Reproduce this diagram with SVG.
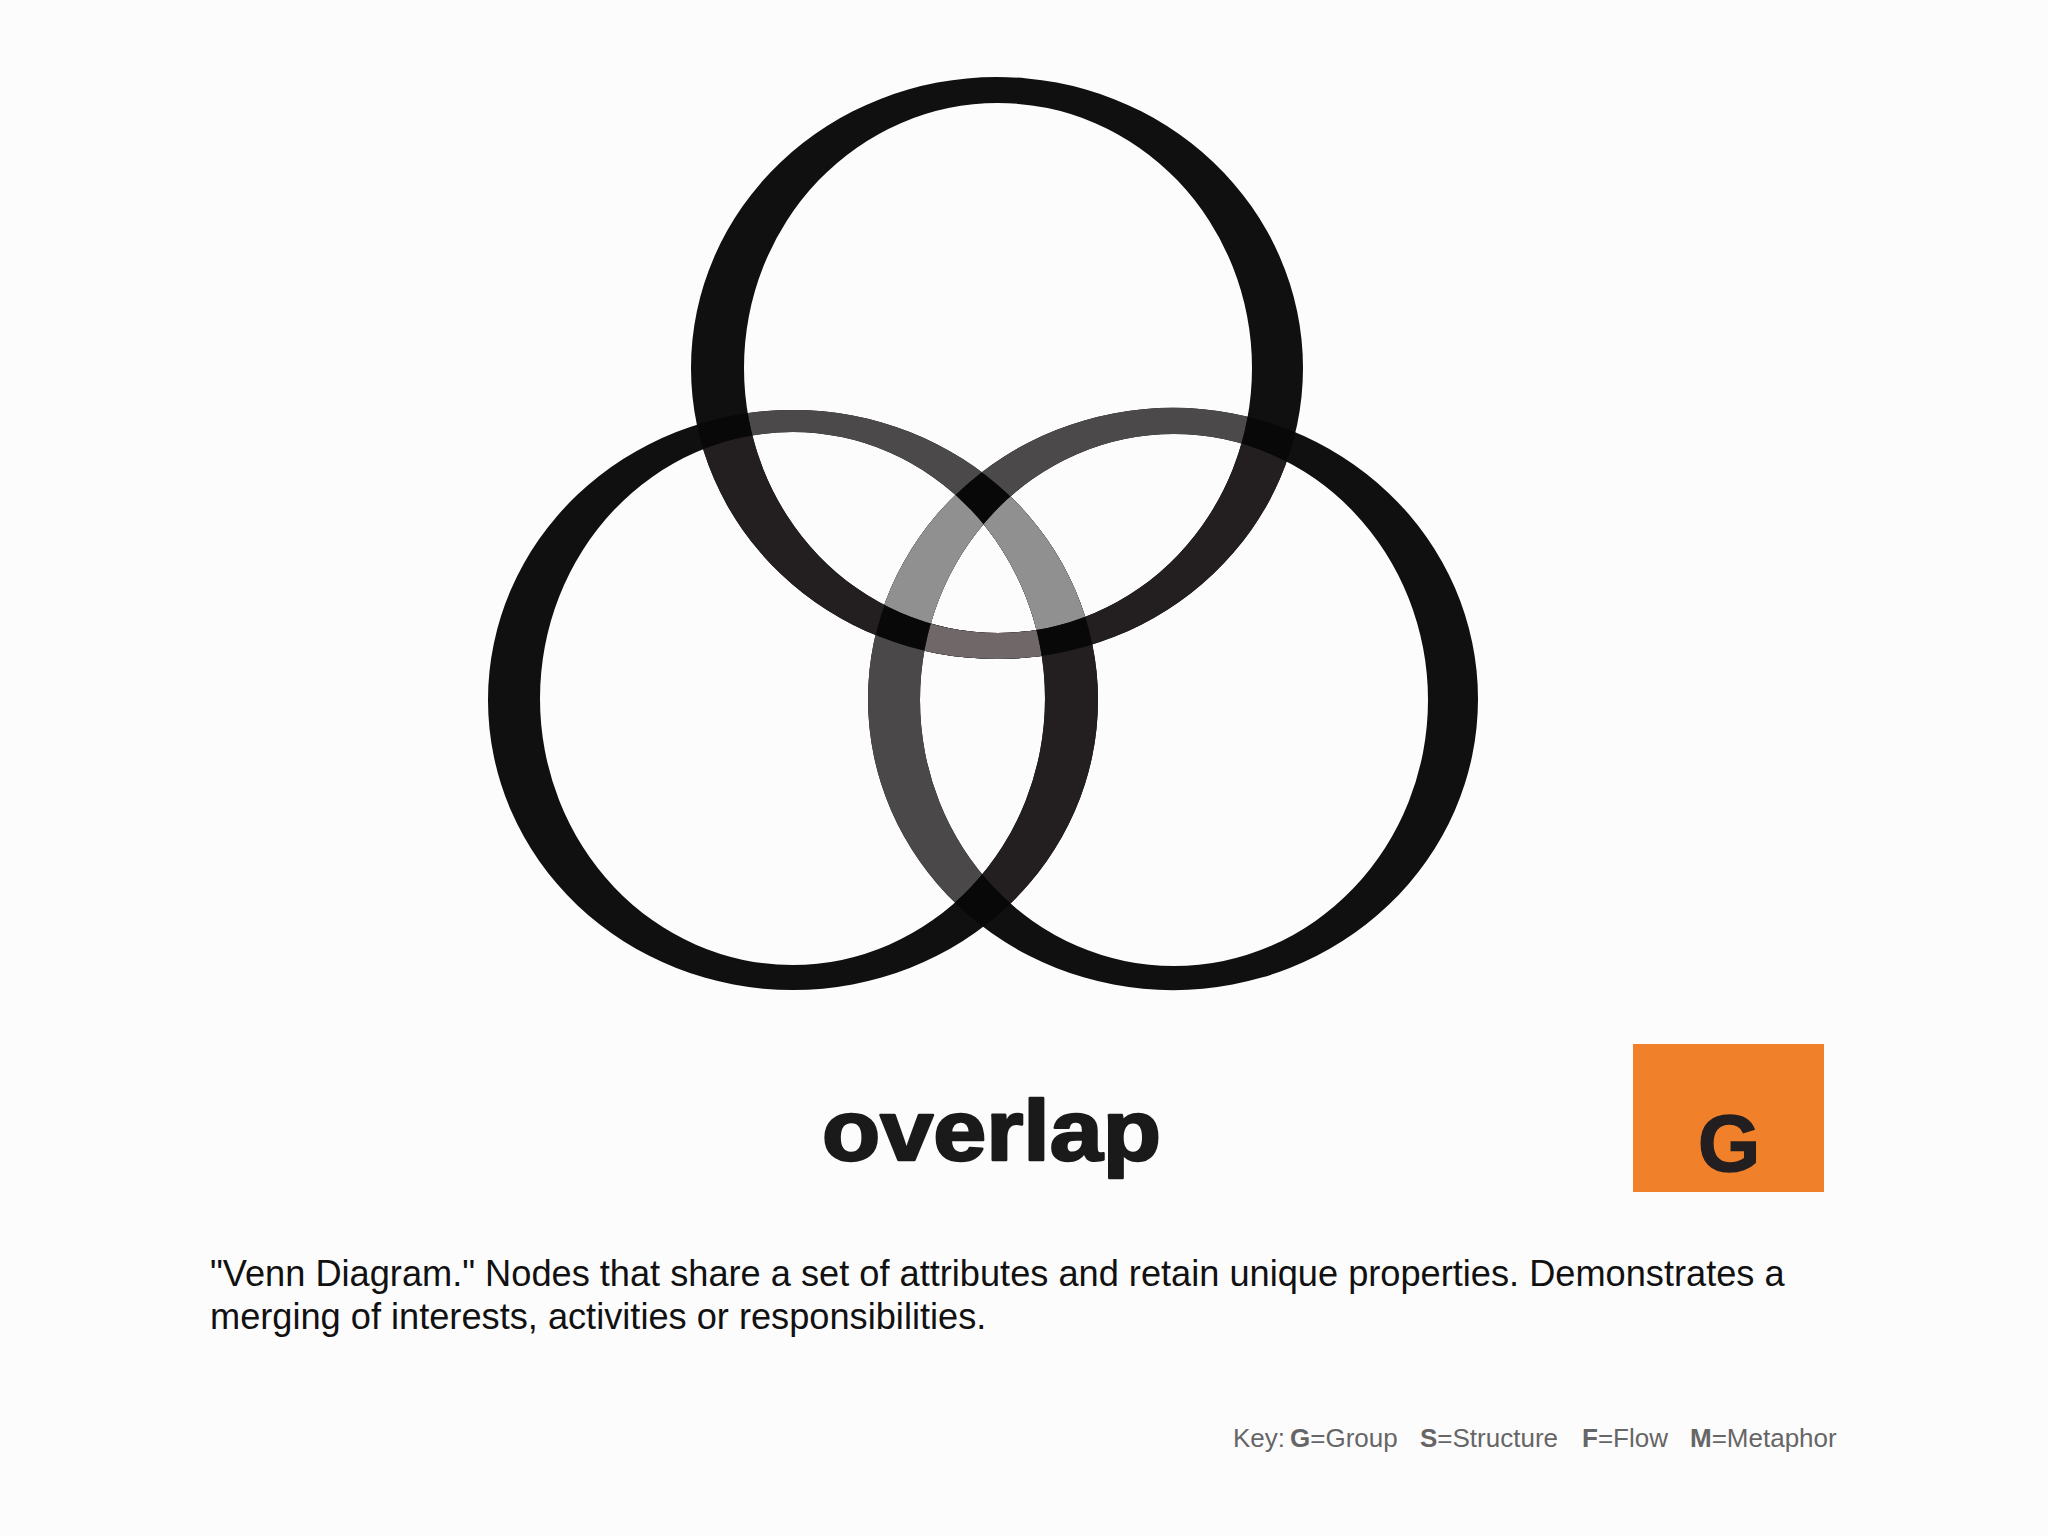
<svg xmlns="http://www.w3.org/2000/svg" xmlns:xlink="http://www.w3.org/1999/xlink" width="2048" height="1536" viewBox="0 0 2048 1536">
  <style>
    .k { fill: #111010; }
    .sans { font-family: "Liberation Sans", Arial, sans-serif; }
    .cap { font-size: 36.2px; fill: #111; }
    .key { font-size: 26px; fill: #666; }
    .b { font-weight: bold; }
  </style>
  <defs>
    <path id="ringT" fill-rule="evenodd" clip-rule="evenodd" d="M691,368 a306,291 0 1,0 612,0 a306,291 0 1,0 -612,0 Z M744,368 a254,265 0 1,0 508,0 a254,265 0 1,0 -508,0 Z"/>
    <path id="ringL" fill-rule="evenodd" clip-rule="evenodd" d="M488,700 a305,290 0 1,0 610,0 a305,290 0 1,0 -610,0 Z M540,698.5 a252.5,266.5 0 1,0 505,0 a252.5,266.5 0 1,0 -505,0 Z"/>
    <path id="ringR" fill-rule="evenodd" clip-rule="evenodd" d="M868,699 a305,291 0 1,0 610,0 a305,291 0 1,0 -610,0 Z M920,700 a254,266 0 1,0 508,0 a254,266 0 1,0 -508,0 Z"/>
    <clipPath id="cpTin"><ellipse cx="998" cy="368" rx="254" ry="265"/></clipPath>
    <clipPath id="cpLin"><ellipse cx="792.5" cy="698.5" rx="252.5" ry="266.5"/></clipPath>
    <clipPath id="cpRin"><ellipse cx="1174" cy="700" rx="254" ry="266"/></clipPath>
    <clipPath id="cpTring"><use xlink:href="#ringT"/></clipPath>
    <clipPath id="cpRring"><use xlink:href="#ringR"/></clipPath>
  </defs>
  <rect x="0" y="0" width="2048" height="1536" fill="#fdfcfd"/>

  <g id="ring-top"><use xlink:href="#ringT" class="k"/></g>
  <g id="ring-left"><use xlink:href="#ringL" class="k"/></g>
  <g id="ring-right"><use xlink:href="#ringR" class="k"/></g>

  <g id="overlaps">
    <g clip-path="url(#cpLin)"><use xlink:href="#ringT" fill="#231f20"/></g>
    <g clip-path="url(#cpRin)"><use xlink:href="#ringT" fill="#231f20"/></g>
    <g clip-path="url(#cpLin)"><g clip-path="url(#cpRin)"><use xlink:href="#ringT" fill="#6f6768"/></g></g>
    <g clip-path="url(#cpRin)"><use xlink:href="#ringL" fill="#231f20"/></g>
    <g clip-path="url(#cpLin)"><use xlink:href="#ringR" fill="#4a4849"/></g>
    <g clip-path="url(#cpTin)"><use xlink:href="#ringL" fill="#4b494a"/></g>
    <g clip-path="url(#cpTin)"><use xlink:href="#ringR" fill="#4b494a"/></g>
    <g clip-path="url(#cpTin)"><g clip-path="url(#cpRin)"><use xlink:href="#ringL" fill="#919090"/></g></g>
    <g clip-path="url(#cpTin)"><g clip-path="url(#cpLin)"><use xlink:href="#ringR" fill="#919090"/></g></g>
    <g clip-path="url(#cpRring)"><use xlink:href="#ringL" fill="#080808"/></g>
    <g clip-path="url(#cpTring)"><use xlink:href="#ringL" fill="#080808"/></g>
    <g clip-path="url(#cpTring)"><use xlink:href="#ringR" fill="#080808"/></g>
  </g>

  <g id="title">
    <text class="sans b" x="822" y="1160" font-size="85" fill="#1a1a1a" stroke="#1a1a1a" stroke-width="2.5" stroke-linejoin="round" textLength="339" lengthAdjust="spacingAndGlyphs">overlap</text>
  </g>

  <g id="badge">
    <rect x="1633" y="1044" width="191" height="148" fill="#f0812a"/>
    <text class="sans b" x="1729" y="1171" font-size="80" fill="#231f20" stroke="#231f20" stroke-width="1.5" text-anchor="middle">G</text>
  </g>

  <g id="caption">
    <text class="sans cap" x="210" y="1286">"Venn Diagram." Nodes that share a set of attributes and retain unique properties. Demonstrates a</text>
    <text class="sans cap" x="210" y="1329">merging of interests, activities or responsibilities.</text>
  </g>

  <g id="key">
    <text class="sans key" y="1447"><tspan x="1233">Key: </tspan><tspan x="1290" class="b">G</tspan><tspan>=Group</tspan><tspan x="1420" class="b">S</tspan><tspan>=Structure</tspan><tspan x="1582" class="b">F</tspan><tspan>=Flow</tspan><tspan x="1690" class="b">M</tspan><tspan>=Metaphor</tspan></text>
  </g>
</svg>
